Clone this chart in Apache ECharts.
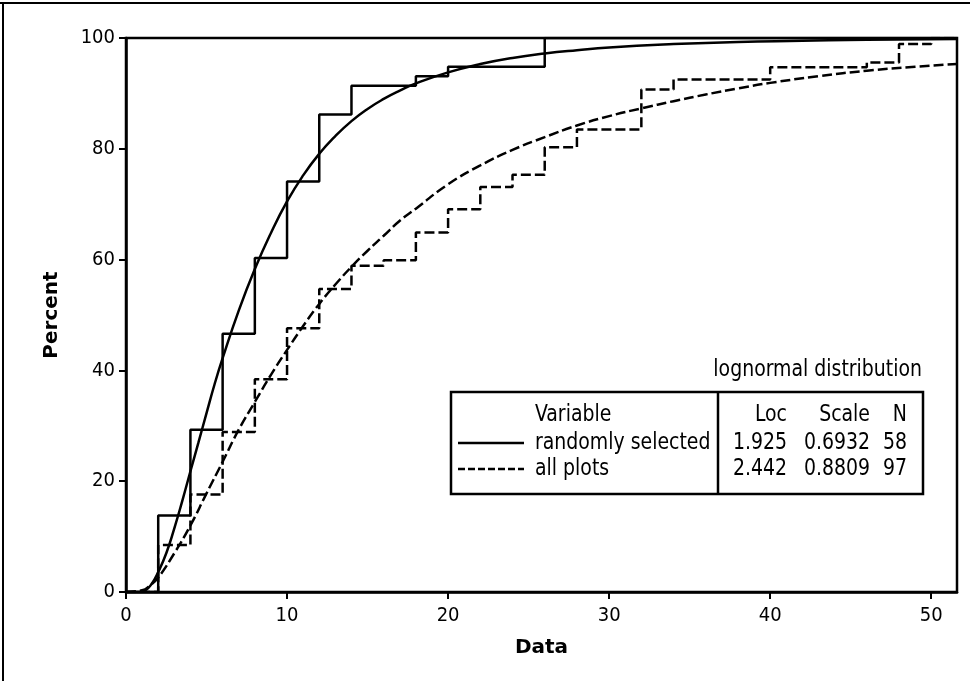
<!DOCTYPE html>
<html>
<head>
<meta charset="utf-8">
<script src="https://cdn.jsdelivr.net/npm/echarts@6/dist/echarts.min.js"></script>
<style>
html,body{margin:0;padding:0;background:#fff;}
#chart{width:970px;height:681px;}
</style>
</head>
<body>
<div id="chart"></div>
<script>
// ---- data ----
const randStepX = [0, 2, 4, 6, 8, 10, 12, 14, 18, 20, 26, 51.6];
const randStepY = [0, 13.8, 29.3, 46.6, 60.3, 74.1, 86.2, 91.4, 93.1, 94.8, 100, 100];
const allStepX = [0, 2, 4, 6, 8, 10, 12, 14, 16, 18, 20, 22, 24, 26, 28, 32, 34, 40, 46, 48, 50, 51.6];
const allStepY = [0, 8.5, 17.6, 28.9, 38.4, 47.6, 54.7, 58.9, 59.9, 64.9, 69.1, 73.1, 75.3, 80.3, 83.5, 90.7, 92.5, 94.7, 95.6, 98.9, 100, 100];
const fitRandX = [0, 0.8, 1.2, 1.6, 2, 2.5, 3, 3.5, 4, 4.5, 5, 5.5, 6, 7, 8, 9, 10, 11, 12, 13, 14, 15, 16, 17, 18, 20, 22, 24, 26, 28, 30, 34, 38, 42, 46, 51.6];
const fitRandY = [0, 0, 0.3, 1.5, 3.6, 7, 11.5, 16.5, 21.8, 27, 32.3, 37.5, 42.2, 50.8, 58.3, 64.8, 70.5, 75.2, 79.1, 82.3, 85, 87.2, 89, 90.5, 91.8, 93.8, 95.3, 96.4, 97.2, 97.8, 98.3, 98.9, 99.3, 99.5, 99.7, 99.8];
const fitAllX = [0, 1, 1.5, 2, 3, 4, 5, 6, 7, 8, 9, 10, 11, 12, 13, 14, 15, 16, 17, 18, 20, 22, 24, 26, 28, 30, 32, 34, 36, 38, 40, 43, 46, 49, 51.6];
const fitAllY = [0, 0.3, 1.2, 2.6, 7, 12, 17.8, 23.5, 29.3, 34.3, 39.2, 43.7, 48, 52, 55.5, 58.7, 61.6, 64.3, 67, 69.2, 73.6, 77, 79.8, 82.1, 84.2, 85.9, 87.3, 88.6, 89.8, 90.9, 91.9, 93.1, 94.1, 94.8, 95.3];

const legendTitle = 'lognormal distribution';
const tableHeader = ['Variable', 'Loc', 'Scale', 'N'];
const tableRows = [
  ['randomly selected', '1.925', '0.6932', '58'],
  ['all plots', '2.442', '0.8809', '97']
];

const xMin = 0, xMax = 51.6, xStep = 10;
const yMin = 0, yMax = 100, yStep = 20;

// ---- build ----
const zip = (xs, ys) => xs.map((x, i) => [x, ys[i]]);
const FONT = '"DejaVu Sans Condensed", "DejaVu Sans", sans-serif';
const BFONT = '"DejaVu Sans", sans-serif';
const dash = [10, 4];
const LW = 2.5;

const chart = echarts.init(document.getElementById('chart'), null, {renderer: 'canvas'});

const colLeft = 535, locR = 787, scaleR = 870, nR = 907;
const rowY = [415, 443, 469];
const tf = '21px ' + FONT;
function txt(t, x, y, align) {
  return {type: 'text', z: 100, x: x, y: y, scaleY: 1.12,
    style: {text: t, x: 0, y: 0, font: tf, fill: '#000', textAlign: align, verticalAlign: 'middle'}};
}
const graphics = [
  {type: 'line', z: 100, shape: {x1: 0, y1: 3, x2: 970, y2: 3}, style: {stroke: '#000', lineWidth: 2}},
  {type: 'line', z: 100, shape: {x1: 3, y1: 3, x2: 3, y2: 681}, style: {stroke: '#000', lineWidth: 2}},
  txt(legendTitle, 922, 370, 'right'),
  {type: 'rect', z: 99, shape: {x: 451, y: 392, width: 472, height: 102}, style: {fill: '#fff', stroke: '#000', lineWidth: 2.5}},
  {type: 'line', z: 100, shape: {x1: 718, y1: 392, x2: 718, y2: 494}, style: {stroke: '#000', lineWidth: 2.5}},
  txt(tableHeader[0], colLeft, rowY[0], 'left'),
  txt(tableHeader[1], locR, rowY[0], 'right'),
  txt(tableHeader[2], scaleR, rowY[0], 'right'),
  txt(tableHeader[3], nR, rowY[0], 'right'),
  {type: 'line', z: 100, shape: {x1: 458, y1: rowY[1], x2: 524, y2: rowY[1]}, style: {stroke: '#000', lineWidth: LW}},
  {type: 'line', z: 100, shape: {x1: 458, y1: rowY[2], x2: 524, y2: rowY[2]}, style: {stroke: '#000', lineWidth: LW, lineDash: [7, 3]}}
];
tableRows.forEach((r, i) => {
  graphics.push(txt(r[0], colLeft, rowY[i + 1], 'left'));
  graphics.push(txt(r[1], locR, rowY[i + 1], 'right'));
  graphics.push(txt(r[2], scaleR, rowY[i + 1], 'right'));
  graphics.push(txt(r[3], nR, rowY[i + 1], 'right'));
});

const axisCommon = {
  axisLine: {show: true, onZero: false, lineStyle: {color: '#000', width: LW}},
  axisTick: {show: true, inside: false, length: 7, lineStyle: {color: '#000', width: 2}},
  splitLine: {show: false},
  nameTextStyle: {fontFamily: BFONT, fontSize: 20, fontWeight: 'bold', color: '#000'}
};

chart.setOption({
  animation: false,
  backgroundColor: '#fff',
  grid: {left: 126, right: 13, top: 38, bottom: 89, show: true, borderColor: '#000', borderWidth: LW, backgroundColor: 'transparent'},
  xAxis: Object.assign({}, axisCommon, {
    type: 'value', min: xMin, max: xMax, interval: xStep,
    name: 'Data', nameLocation: 'middle', nameGap: 46,
    axisLabel: {fontFamily: FONT, fontSize: 20, color: '#000', margin: 14, showMaxLabel: false}
  }),
  yAxis: Object.assign({}, axisCommon, {
    type: 'value', min: yMin, max: yMax, interval: yStep,
    name: 'Percent', nameLocation: 'middle', nameGap: 64, nameRotate: 90,
    axisLabel: {fontFamily: FONT, fontSize: 20, color: '#000', margin: 11}
  }),
  series: [
    {type: 'line', name: 'randomly selected ECDF', step: 'end', symbol: 'none', clip: true,
     data: zip(randStepX, randStepY), lineStyle: {color: '#000', width: LW}},
    {type: 'line', name: 'all plots ECDF', step: 'end', symbol: 'none', clip: true,
     data: zip(allStepX, allStepY), lineStyle: {color: '#000', width: LW, type: dash}},
    {type: 'line', name: 'randomly selected', smooth: 0.5, symbol: 'none', clip: true,
     data: zip(fitRandX, fitRandY), lineStyle: {color: '#000', width: LW}},
    {type: 'line', name: 'all plots', smooth: 0.5, symbol: 'none', clip: true,
     data: zip(fitAllX, fitAllY), lineStyle: {color: '#000', width: LW, type: dash}}
  ],
  graphic: graphics
});
</script>
</body>
</html>
